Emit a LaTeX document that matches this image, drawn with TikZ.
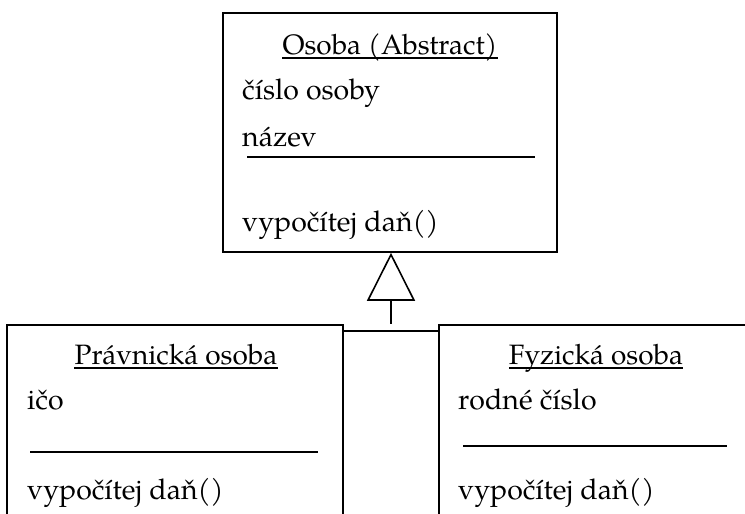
\documentclass[tikz,border=0pt]{standalone}
\usepackage{fontspec}
\setmainfont{TeX Gyre Pagella}
\usetikzlibrary{arrows.meta}
\begin{document}
\begin{tikzpicture}[x=1pt,y=1pt,
  classbox/.style={draw, line width=1.6pt, rectangle, inner sep=0pt},
  member/.style={inner sep=0pt, anchor=base west, font=\fontsize{28.5}{31}\selectfont},
  classname/.style={inner sep=0pt, anchor=base, font=\fontsize{28}{31}\selectfont},
  uline/.style={line width=1.2pt},
  sepline/.style={line width=1.6pt},
  link/.style={line width=1.6pt}]
\useasboundingbox (0,0) rectangle (745,514);
\clip (0,0) rectangle (745,514);

% abstract base class
\node[classbox, minimum width=334pt, minimum height=239pt] (osoba) at (390,381.5) {};
\node[classname] (osobaT) at (390,459) {Osoba (Abstract)};
\draw[uline] ([yshift=-3pt]osobaT.base west) -- ([yshift=-3pt]osobaT.base east);
\node[member] (a1) at (242,414) {číslo osoby};
\node[member] (a2) at (242,367) {název};
\coordinate (s1a) at (247,357);
\coordinate (s1b) at (535,357);
\draw[sepline] (s1a) -- (s1b);
\node[member] (m1) at (242,282) {vypočítej daň()};

% subclasses
\node[classbox, minimum width=336pt, minimum height=220pt] (pravnicka) at (175,79) {};
\node[classname] (pravT) at (176,149) {Právnická osoba};
\draw[uline] ([yshift=-3pt]pravT.base west) -- ([yshift=-3pt]pravT.base east);
\node[member] (p1) at (27,104) {ičo};
\coordinate (s2a) at (30,62);
\coordinate (s2b) at (318,62);
\draw[sepline] (s2a) -- (s2b);
\node[member] (p2) at (27,14) {vypočítej daň()};

\node[classbox, minimum width=321pt, minimum height=220pt] (fyzicka) at (599.5,79) {};
\node[classname] (fyzT) at (596,149) {Fyzická osoba};
\draw[uline] ([yshift=-3pt]fyzT.base west) -- ([yshift=-3pt]fyzT.base east);
\node[member] (f1) at (458,104) {rodné číslo};
\coordinate (s3a) at (463,68);
\coordinate (s3b) at (727,68);
\draw[sepline] (s3a) -- (s3b);
\node[member] (f2) at (458,14) {vypočítej daň()};

% generalization
\coordinate (bar) at (391,183);
\coordinate (stem) at (391,190);
\draw[link] (pravnicka.east |- bar) -- (fyzicka.west |- bar);
\draw[link, -{Triangle[open, length=48pt, width=48pt, line width=1.6pt]}] (stem) -- (osoba.south -| stem);
\end{tikzpicture}
\end{document}
